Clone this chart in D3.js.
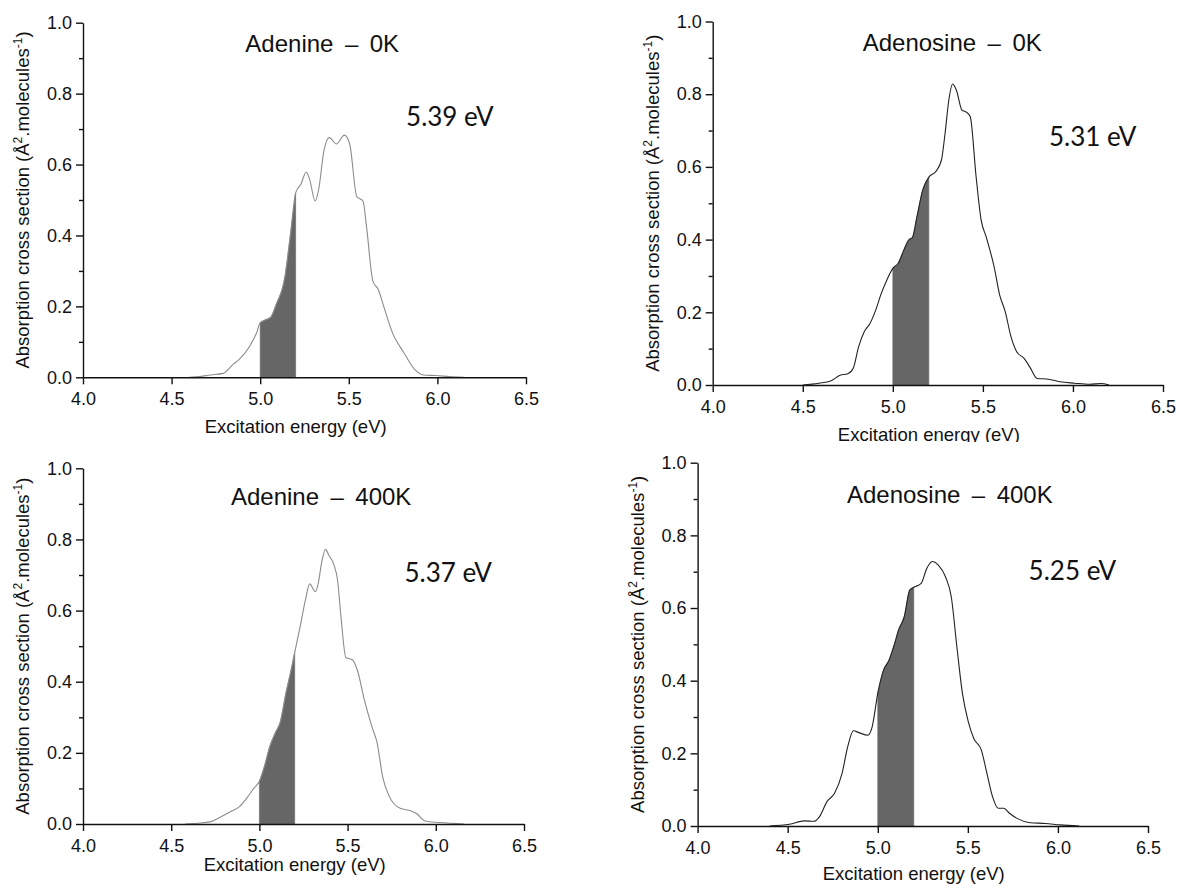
<!DOCTYPE html>
<html>
<head>
<meta charset="utf-8">
<script src="https://cdn.jsdelivr.net/npm/d3@7"></script>
<style>
  body { margin: 0; background: #fff; }
</style>
</head>
<body>
<div id="chart"></div>
<script>
// axis ticks
const energyTicks = [4.0, 4.5, 5.0, 5.5, 6.0, 6.5];
const crossTicks = [0, 0.2, 0.4, 0.6, 0.8, 1.0];
const crossMinorTicks = [0.1, 0.3, 0.5, 0.7, 0.9];
const shadeRange = [5.0, 5.2];

const panelTitles = ["Adenine \u2009\u2013\u2009 0K", "Adenosine \u2009\u2013\u2009 0K",
  "Adenine \u2009\u2013\u2009 400K", "Adenosine \u2009\u2013\u2009 400K"];
const peakLabels = ["5.39 eV", "5.31 eV", "5.37 eV", "5.25 eV"];

// [excitation energy (eV), cross section]
const adenine0K = [
  [4.60, 0], [4.66, 0.002], [4.72, 0.0065], [4.79, 0.011], [4.85, 0.038], [4.88, 0.05],
  [4.94, 0.087], [4.98, 0.126], [5.0, 0.154], [5.03, 0.162], [5.06, 0.17], [5.09, 0.205],
  [5.14, 0.285], [5.17, 0.4], [5.2, 0.52], [5.23, 0.545], [5.26, 0.579], [5.28, 0.556],
  [5.31, 0.497], [5.33, 0.53], [5.36, 0.64], [5.39, 0.676], [5.43, 0.658], [5.475, 0.683],
  [5.505, 0.658], [5.545, 0.51], [5.58, 0.497], [5.6, 0.425], [5.636, 0.271], [5.667, 0.247],
  [5.697, 0.2], [5.75, 0.121], [5.81, 0.07], [5.87, 0.023], [5.92, 0.0065], [5.99, 0.005],
  [6.07, 0.002], [6.15, 0]
];
const adenosine0K = [
  [4.50, 0], [4.59, 0.005], [4.655, 0.011], [4.707, 0.027], [4.75, 0.031], [4.78, 0.046],
  [4.81, 0.105], [4.842, 0.147], [4.874, 0.17], [4.905, 0.206], [4.936, 0.252], [4.967, 0.289],
  [5.0, 0.321], [5.03, 0.335], [5.061, 0.371], [5.088, 0.399], [5.109, 0.406], [5.134, 0.463],
  [5.166, 0.536], [5.2, 0.572], [5.238, 0.587], [5.27, 0.619], [5.29, 0.692], [5.311, 0.784],
  [5.332, 0.828], [5.353, 0.811], [5.384, 0.756], [5.41, 0.75], [5.43, 0.738], [5.462, 0.575],
  [5.49, 0.455], [5.52, 0.405], [5.562, 0.326], [5.593, 0.248], [5.624, 0.202], [5.656, 0.133],
  [5.687, 0.092], [5.729, 0.073], [5.76, 0.05], [5.801, 0.018], [5.864, 0.016], [5.927, 0.009],
  [6.01, 0.005], [6.093, 0.002], [6.156, 0.004], [6.2, 0]
];
const adenine400K = [
  [4.58, 0], [4.65, 0.002], [4.725, 0.0066], [4.785, 0.021], [4.846, 0.037], [4.887, 0.049],
  [4.927, 0.072], [4.968, 0.1], [5.0, 0.12], [5.028, 0.161], [5.059, 0.218], [5.089, 0.255],
  [5.119, 0.288], [5.15, 0.367], [5.18, 0.433], [5.2, 0.482], [5.231, 0.555], [5.261, 0.63],
  [5.285, 0.675], [5.317, 0.653], [5.335, 0.68], [5.352, 0.733], [5.375, 0.772], [5.393, 0.756],
  [5.423, 0.728], [5.443, 0.686], [5.464, 0.574], [5.49, 0.468], [5.528, 0.461], [5.555, 0.433],
  [5.595, 0.349], [5.64, 0.27], [5.666, 0.231], [5.7, 0.13], [5.737, 0.077], [5.798, 0.044],
  [5.858, 0.037], [5.889, 0.03], [5.939, 0.0084], [6.02, 0.004], [6.16, 0]
];
const adenosine400K = [
  [4.40, 0], [4.51, 0.0046], [4.593, 0.014], [4.645, 0.013], [4.677, 0.026], [4.718, 0.067],
  [4.76, 0.09], [4.802, 0.145], [4.833, 0.218], [4.865, 0.262], [4.896, 0.257], [4.944, 0.25],
  [4.969, 0.273], [5.0, 0.365], [5.032, 0.429], [5.063, 0.457], [5.094, 0.503], [5.115, 0.539],
  [5.147, 0.576], [5.178, 0.65], [5.2, 0.657], [5.241, 0.668], [5.272, 0.709], [5.303, 0.728],
  [5.335, 0.719], [5.376, 0.686], [5.408, 0.631], [5.439, 0.494], [5.47, 0.365], [5.502, 0.288],
  [5.533, 0.241], [5.575, 0.209], [5.606, 0.145], [5.637, 0.081], [5.669, 0.049], [5.70, 0.049],
  [5.731, 0.035], [5.773, 0.021], [5.846, 0.009], [5.93, 0.007], [6.013, 0.003], [6.118, 0]
];

const WIDTH = 1179;
const HEIGHT = 886;
const FONT = "'Liberation Sans', Arial, sans-serif";
const TICK_SIZE = 18;
const AXIS_TITLE_SIZE = 18.5;
const SHADE_COLOR = "#666666";

// each panel is a pasted sub-figure, so the frames differ slightly
const panels = [
  { series: adenine0K, left: 83, right: 526, top: 22.7, bottom: 377.3, stroke: "#8c8c8c",
    titleAt: [5.35, 0.918], peakAt: [6.07, 0.709], xTitleGap: 56, sheet: null },
  { series: adenosine0K, left: 712.7, right: 1163, top: 21.5, bottom: 385, stroke: "#222222",
    titleAt: [5.33, 0.919], peakAt: [6.11, 0.657], xTitleGap: 56, sheet: null },
  { series: adenine400K, left: 83, right: 524, top: 468.3, bottom: 824, stroke: "#8c8c8c",
    titleAt: [5.35, 0.897], peakAt: [6.07, 0.681], xTitleGap: 47, sheet: null },
  { series: adenosine400K, left: 697.6, right: 1148, top: 462.7, bottom: 826, stroke: "#222222",
    titleAt: [5.40, 0.89], peakAt: [6.08, 0.677], xTitleGap: 54, sheet: [590, 442, 589, 444] }
];

const svg = d3.select("#chart")
  .append("svg")
  .attr("width", WIDTH)
  .attr("height", HEIGHT)
  .attr("viewBox", [0, 0, WIDTH, HEIGHT])
  .style("background", "#fff");

function drawPanel(p, i) {
  const g = svg.append("g").attr("class", "panel");

  // white sheet of the pasted image (covers what lies below it)
  if (p.sheet) {
    g.append("rect")
      .attr("x", p.sheet[0]).attr("y", p.sheet[1])
      .attr("width", p.sheet[2]).attr("height", p.sheet[3])
      .attr("fill", "#fff");
  }

  const x = d3.scaleLinear().domain([4.0, 6.5]).range([p.left, p.right]);
  const y = d3.scaleLinear().domain([0, 1.0]).range([p.bottom, p.top]);

  // shaded 5.0 - 5.2 eV window
  const shadePts = p.series.filter(d => d[0] >= shadeRange[0] && d[0] <= shadeRange[1]);
  const area = d3.area()
    .x(d => x(d[0]))
    .y0(y(0))
    .y1(d => y(d[1]))
    .curve(d3.curveMonotoneX);
  g.append("path")
    .datum(shadePts)
    .attr("d", area)
    .attr("fill", SHADE_COLOR)
    .attr("stroke", SHADE_COLOR)
    .attr("stroke-width", 0.6);

  const line = d3.line()
    .x(d => x(d[0]))
    .y(d => y(d[1]))
    .curve(d3.curveMonotoneX);
  g.append("path")
    .datum(p.series)
    .attr("d", line)
    .attr("fill", "none")
    .attr("stroke", p.stroke)
    .attr("stroke-width", 1.1);

  // axes
  const xAxis = d3.axisBottom(x)
    .tickValues(energyTicks)
    .tickFormat(d3.format(".1f"))
    .tickSize(7)
    .tickSizeOuter(0)
    .tickPadding(8);
  g.append("g")
    .attr("transform", `translate(0,${p.bottom})`)
    .call(xAxis);

  const yAxis = d3.axisLeft(y)
    .tickValues(crossTicks)
    .tickFormat(d3.format(".1f"))
    .tickSize(7)
    .tickSizeOuter(0)
    .tickPadding(4);
  g.append("g")
    .attr("transform", `translate(${p.left},0)`)
    .call(yAxis);

  const yMinor = d3.axisLeft(y)
    .tickValues(crossMinorTicks)
    .tickFormat("")
    .tickSize(4)
    .tickSizeOuter(0);
  g.append("g")
    .attr("transform", `translate(${p.left},0)`)
    .call(yMinor)
    .call(s => s.select(".domain").remove());

  g.selectAll(".domain, .tick line")
    .attr("stroke", "#111")
    .attr("stroke-width", 1.4);
  g.selectAll(".tick text")
    .style("font-family", FONT)
    .style("font-size", TICK_SIZE + "px")
    .attr("fill", "#111");

  // axis titles
  g.append("text")
    .attr("x", x(5.2))
    .attr("y", p.bottom + p.xTitleGap)
    .attr("text-anchor", "middle")
    .style("font-family", FONT)
    .style("font-size", AXIS_TITLE_SIZE + "px")
    .attr("fill", "#111")
    .text("Excitation energy (eV)");

  const yt = g.append("text")
    .attr("transform", `translate(${p.left - 54},${(p.top + p.bottom) / 2}) rotate(-90)`)
    .attr("text-anchor", "middle")
    .style("font-family", FONT)
    .style("font-size", AXIS_TITLE_SIZE + "px")
    .attr("fill", "#111");
  yt.append("tspan").text("Absorption cross section (\u00c5");
  yt.append("tspan").attr("dy", -7).style("font-size", "12px").text("2");
  yt.append("tspan").attr("dy", 7).text(".molecules");
  yt.append("tspan").attr("dy", -7).style("font-size", "12px").text("-1");
  yt.append("tspan").attr("dy", 7).text(")");

  // panel title and peak energy
  g.append("text")
    .attr("x", x(p.titleAt[0]))
    .attr("y", y(p.titleAt[1]))
    .attr("text-anchor", "middle")
    .style("font-family", FONT)
    .style("font-size", "24px")
    .attr("fill", "#111")
    .text(panelTitles[i]);

  g.append("text")
    .attr("x", x(p.peakAt[0]))
    .attr("y", y(p.peakAt[1]))
    .attr("text-anchor", "middle")
    .style("font-family", "Lato, 'Open Sans', sans-serif")
    .style("font-size", "26px")
    .attr("fill", "#111")
    .text(peakLabels[i]);
}

panels.forEach(drawPanel);
</script>
</body>
</html>
